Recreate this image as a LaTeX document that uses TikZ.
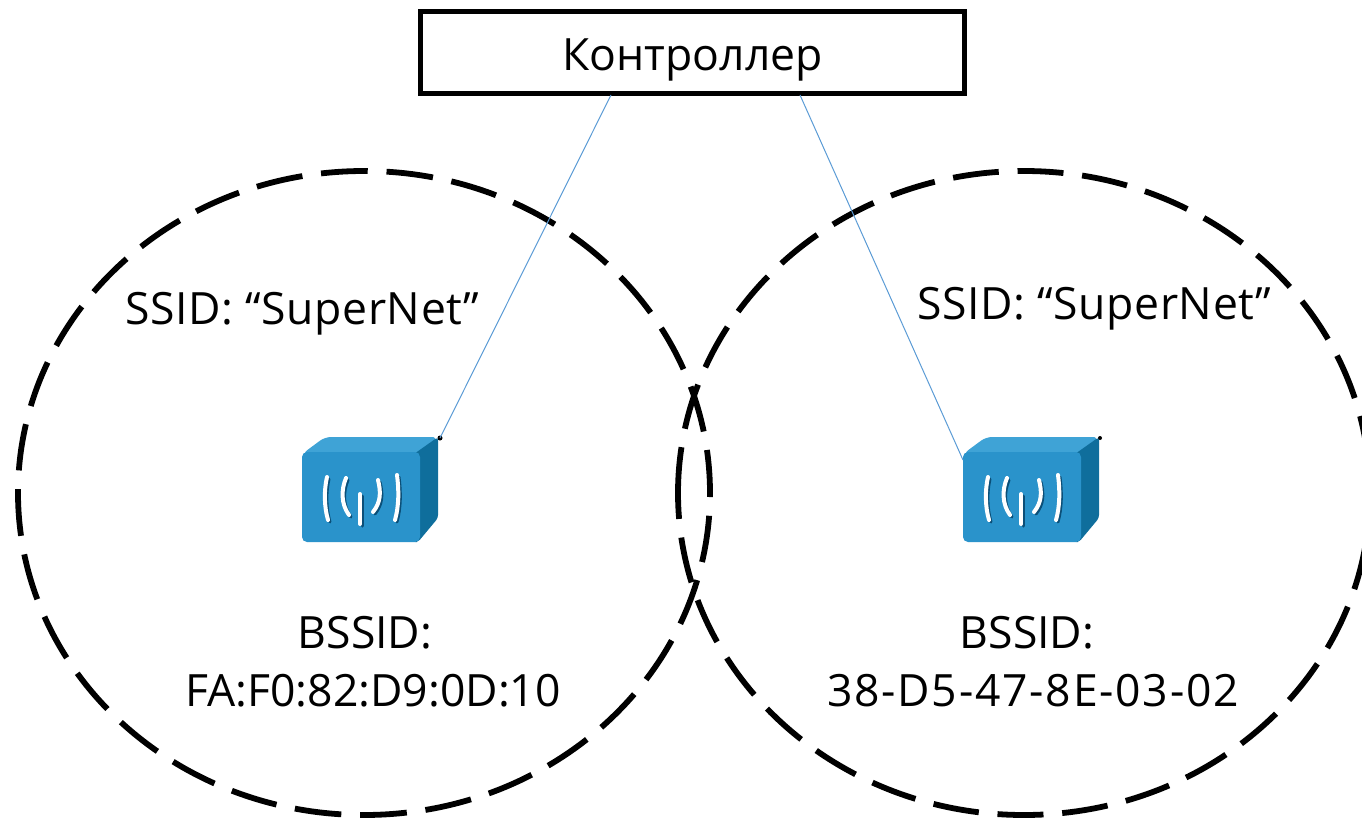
\documentclass[tikz,border=0pt]{standalone}
\usepackage{fontspec}
\setmainfont{Open Sans}
\definecolor{apfront}{HTML}{2A93CB}
\definecolor{aptop}{HTML}{3FA3D6}
\definecolor{apside}{HTML}{0F6E9C}
\definecolor{apshade}{HTML}{0B4F78}
\definecolor{linkblue}{HTML}{5B9BD5}
\tikzset{
  cell/.style={draw=black, line width=5.8pt},
  label/.style={font=\fontsize{44.5}{52}\selectfont, inner sep=0pt},
  wide/.style={label, font=\fontsize{44.5}{52}\selectfont\addfontfeatures{LetterSpace=1.3}},
  wider/.style={label, font=\fontsize{44.5}{52}\selectfont\addfontfeatures{LetterSpace=4}},
  link/.style={draw=linkblue, line width=1pt},
  ctrlbox/.style={draw=black, line width=5.5pt, minimum width=544pt, minimum height=82pt,
    text height=36pt, text depth=0pt, font=\fontsize{44.5}{52}\selectfont},
  wave/.style={draw=white, line width=4pt, line cap=round},
  shade/.style={draw=apshade, line width=3pt, line cap=round},
  pics/apbox/.style={code={
    \fill[aptop, rounded corners=6pt] (0,2) -- (23,-15) -- (136,-15) -- (118,2) -- cycle;
    \fill[apside, rounded corners=3pt] (112,2) -- (136,-15) -- (136,66) -- (116,90) -- (112,90) -- cycle;
    \fill[apfront, rounded corners=5pt] (0,0) rectangle (118,90);
    \foreach \dx/\dy/\col in {2/2/shade, 0/0/wave} {
      \begin{scope}[shift={(\dx,\dy)}]
        \draw[\col] (25,25) .. controls (22,38) and (22,54) .. (26,68);
        \draw[\col] (44,26) .. controls (39,38) and (39,52) .. (47,63);
        \draw[\col] (58,42) -- (58,72);
        \draw[\col] (76,28) .. controls (79,40) and (79,50) .. (71,60);
        \draw[\col] (95,23) .. controls (97,38) and (97,54) .. (93,68);
      \end{scope}
    }
  }}
}
\begin{document}
\begin{tikzpicture}[x=1pt, y=-1pt]
  \useasboundingbox (0,0) rectangle (1362,822);
  \draw[cell, dash pattern=on 46.8pt off 18.8pt, dash phase=42.8pt] (364,493) ellipse [x radius=346, y radius=322];
  \draw[cell, dash pattern=on 46pt off 18.8pt, rotate around={180:(1024,493)}] (1024,493) ellipse [x radius=346, y radius=322];

  \node[ctrlbox] (ctrl) at (692.5,52.5) {Контроллер};

  \pic at (302,452) {apbox};
  \pic at (963,452) {apbox};
  \coordinate (apL) at (440,438);
  \coordinate (apR) at (963,460);
  \coordinate (ctrlL) at (611,95);
  \coordinate (ctrlR) at (800,95);
  \fill[black] (apL) circle (2.5);
  \fill[black] (1100,438) circle (2);

  \draw[link] (ctrlL) -- (apL);
  \draw[link] (ctrlR) -- (apR);

  \node[wide] (ssidL) at (302.5,313.5) {SSID: “SuperNet”};
  \node[wide] (ssidR) at (1094.5,308.5) {SSID: “SuperNet”};
  \node[label] (bssidL) at (365,633) {BSSID:};
  \node[label] (macL) at (373,690.5) {FA:F0:82:D9:0D:10};
  \node[label] (bssidR) at (1027,633) {BSSID:};
  \node[wider] (macR) at (1033,690.5) {38-D5-47-8E-03-02};
\end{tikzpicture}
\end{document}
